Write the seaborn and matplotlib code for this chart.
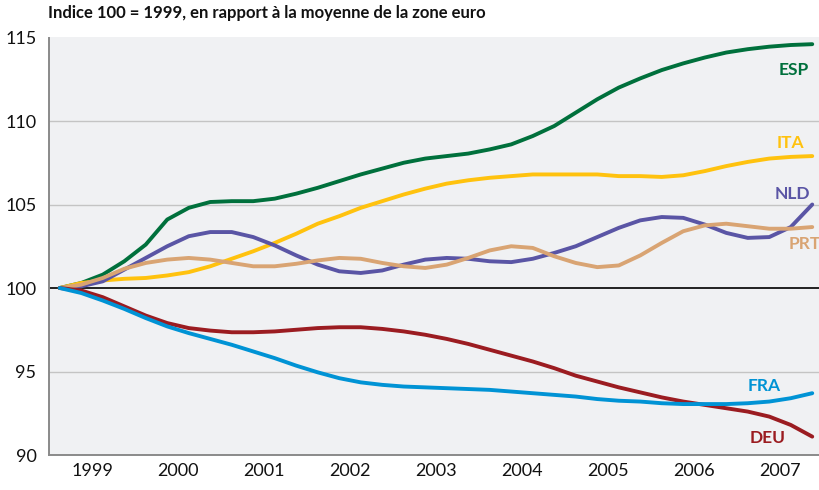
import numpy as np
import pandas as pd
import matplotlib
matplotlib.use("Agg")
import matplotlib.pyplot as plt
import seaborn as sns

quarters = [1999 + (q + 0.5) / 4 for q in range(36)]

ESP = [100.0, 100.3, 100.8, 101.6, 102.6, 104.1, 104.8, 105.15, 105.2, 105.2, 105.35, 105.65,
       106.0, 106.4, 106.8, 107.15, 107.5, 107.75, 107.9, 108.05, 108.3, 108.6, 109.1, 109.7,
       110.5, 111.3, 112.0, 112.55, 113.05, 113.45, 113.8, 114.1, 114.3, 114.45, 114.55, 114.6]
ITA = [100.0, 100.3, 100.45, 100.55, 100.6, 100.75, 100.95, 101.3, 101.75, 102.2, 102.7, 103.25,
       103.85, 104.3, 104.8, 105.2, 105.6, 105.95, 106.25, 106.45, 106.6, 106.7, 106.8, 106.8,
       106.8, 106.8, 106.7, 106.7, 106.65, 106.75, 107.0, 107.3, 107.55, 107.75, 107.85, 107.9]
NLD = [100.0, 100.1, 100.4, 101.1, 101.8, 102.5, 103.1, 103.35, 103.35, 103.05, 102.55, 101.95,
       101.4, 101.0, 100.9, 101.05, 101.4, 101.7, 101.8, 101.75, 101.6, 101.55, 101.75, 102.1,
       102.5, 103.05, 103.6, 104.05, 104.25, 104.2, 103.8, 103.3, 103.0, 103.05, 103.65, 105.0]
PRT = [100.0, 100.2, 100.6, 101.15, 101.5, 101.7, 101.8, 101.7, 101.5, 101.3, 101.3, 101.45,
       101.65, 101.8, 101.75, 101.5, 101.3, 101.2, 101.4, 101.8, 102.25, 102.5, 102.4, 101.9,
       101.5, 101.25, 101.35, 101.95, 102.7, 103.4, 103.75, 103.85, 103.7, 103.55, 103.55, 103.65]
DEU = [100.0, 99.85, 99.45, 98.9, 98.35, 97.9, 97.6, 97.45, 97.35, 97.35, 97.4, 97.5,
       97.6, 97.65, 97.65, 97.55, 97.4, 97.2, 96.95, 96.65, 96.3, 95.95, 95.6, 95.2,
       94.75, 94.4, 94.05, 93.75, 93.45, 93.2, 93.0, 92.8, 92.6, 92.3, 91.8, 91.1]
FRA = [100.0, 99.7, 99.25, 98.75, 98.2, 97.7, 97.3, 96.95, 96.6, 96.2, 95.8, 95.35,
       94.95, 94.6, 94.35, 94.2, 94.1, 94.05, 94.0, 93.95, 93.9, 93.8, 93.7, 93.6,
       93.5, 93.35, 93.25, 93.2, 93.1, 93.05, 93.05, 93.05, 93.1, 93.2, 93.4, 93.7]

series = {"ESP": ESP, "ITA": ITA, "NLD": NLD, "PRT": PRT, "DEU": DEU, "FRA": FRA}
colors = {"ESP": "#00703c", "ITA": "#ffc20e", "NLD": "#5a55a5", "PRT": "#d9a473",
          "DEU": "#9b1c21", "FRA": "#0093d5"}
year_labels = ["1999", "2000", "2001", "2002", "2003", "2004", "2005", "2006", "2007"]
y_ticks = [90, 95, 100, 105, 110, 115]
title = "Indice 100 = 1999, en rapport à la moyenne de la zone euro"

df = pd.concat([pd.DataFrame({"t": quarters, "v": vals, "pays": name})
                for name, vals in series.items()], ignore_index=True)

sns.set_theme(style="white")
plt.rcParams["font.family"] = ["Lato", "DejaVu Sans"]

fig = plt.figure(figsize=(8.2, 4.9), dpi=100)
L, R, B, T = 49 / 820, 1.0, 1 - 455 / 490, 1 - 37.5 / 490
ax = fig.add_axes([L, B, R - L, T - B])
ax.set_facecolor("#f0f1f3")

for yv in [95, 105, 110]:
    ax.axhline(yv, color="#c4c4c4", lw=1.0, zorder=1)
ax.axhline(100, color="#111111", lw=1.3, zorder=1)

sns.lineplot(data=df, x="t", y="v", hue="pays", palette=colors, lw=2.8,
             legend=False, ax=ax, zorder=3, solid_capstyle="round")

ax.set_xlim(1999, 1999 + 771 / 86)
ax.set_ylim(90, 115)
ax.set_xlabel("")
ax.set_ylabel("")

for s in ["top", "right"]:
    ax.spines[s].set_visible(False)
for s in ["left", "bottom"]:
    ax.spines[s].set_color("#8a8a8a")
    ax.spines[s].set_linewidth(1.4)

ax.set_yticks(y_ticks)
ax.set_yticklabels([str(v) for v in y_ticks], fontsize=13, color="#111111")
ax.tick_params(axis="y", direction="out", length=5, width=1, color="#8a8a8a", pad=4)

ax.set_xticks([2000 + i for i in range(8)])
ax.set_xticklabels([])
ax.tick_params(axis="x", which="major", direction="out", length=10, width=1.2, color="#8a8a8a")
ax.set_xticks([1999.5 + i for i in range(9)], minor=True)
ax.set_xticklabels(year_labels, minor=True, fontsize=13, color="#111111")
ax.tick_params(axis="x", which="minor", length=0, pad=6)

labels = {"ESP": (794, 70), "ITA": (790, 143), "NLD": (792, 194), "PRT": (805, 244),
          "FRA": (764, 386), "DEU": (768, 438)}
for name, (px, py) in labels.items():
    fig.text(px / 820, 1 - py / 490, name, color=colors[name], fontsize=12.5,
             fontweight="bold", ha="center", va="center")

fig.text(48 / 820, 1 - 13 / 490, title, fontsize=12, fontweight="bold",
         ha="left", va="center", color="#111111")

fig.savefig("out.png", dpi=100, facecolor="white")
